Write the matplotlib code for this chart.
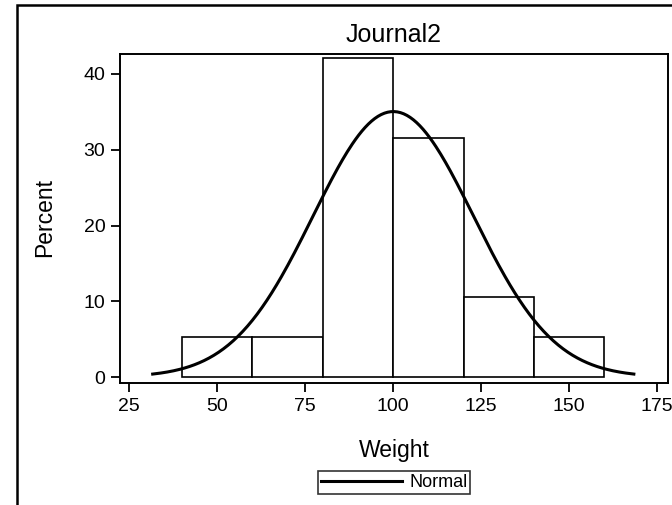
import numpy as np
import matplotlib.pyplot as plt
from matplotlib.patches import Rectangle

plt.rcParams['font.family'] = ['Liberation Sans', 'DejaVu Sans']

# Histogram of Weight (percent per bin)
bin_edges = [40, 60, 80, 100, 120, 140, 160]
percents = [5.26, 5.26, 42.11, 31.58, 10.53, 5.26]

# Fitted normal parameters
mu = 100.03
sigma = 22.77
bin_width = 20

W, H = 672, 505
fig = plt.figure(figsize=(W / 100, H / 100), dpi=100)
ax = fig.add_axes([120 / W, 1 - 383 / H, (668 - 120) / W, (383 - 54) / H])

lefts = bin_edges[:-1]
widths = np.diff(bin_edges)
ax.bar(lefts, percents, width=widths, align='edge', facecolor='white',
       edgecolor='black', linewidth=1.2, zorder=2)

# normal density scaled to percent
xs = np.linspace(mu - 3 * sigma, mu + 3 * sigma, 300)
ys = 100 * bin_width / (sigma * np.sqrt(2 * np.pi)) * np.exp(-0.5 * ((xs - mu) / sigma) ** 2)
line, = ax.plot(xs, ys, color='black', linewidth=2.2, zorder=3, label='Normal')

ax.set_xlim(22.44, 178.04)
ax.set_ylim(-0.79, 42.64)
ax.set_xticks([25, 50, 75, 100, 125, 150, 175])
ax.set_yticks([0, 10, 20, 30, 40])
ax.tick_params(direction='out', length=6.5, width=1.3, labelsize=14, pad=4)
for s in ax.spines.values():
    s.set_linewidth(1.4)

ax.set_title('Journal2', fontsize=18, pad=9)
fig.text(394 / W, 1 - 457 / H, 'Weight', fontsize=16.5, ha='center', va='baseline')
fig.text(45 / W, 1 - 218 / H, 'Percent', fontsize=16.5, ha='center', va='center',
         rotation=90)

leg = fig.legend(handles=[line], loc='center', bbox_to_anchor=(394 / W, 1 - 482.5 / H),
                 frameon=True, fancybox=False, edgecolor='black', fontsize=13,
                 handlelength=4.5, handletextpad=0.4, borderpad=0.15,
                 borderaxespad=0)
leg.get_frame().set_linewidth(1.2)

# outer frame (cropped at right and bottom)
fig.patches.append(Rectangle((16.5 / W, -0.1), 1.2, 1 - 5 / H + 0.1,
                             transform=fig.transFigure, fill=False,
                             edgecolor='black', linewidth=1.8))

fig.savefig('out.png', dpi=100)
